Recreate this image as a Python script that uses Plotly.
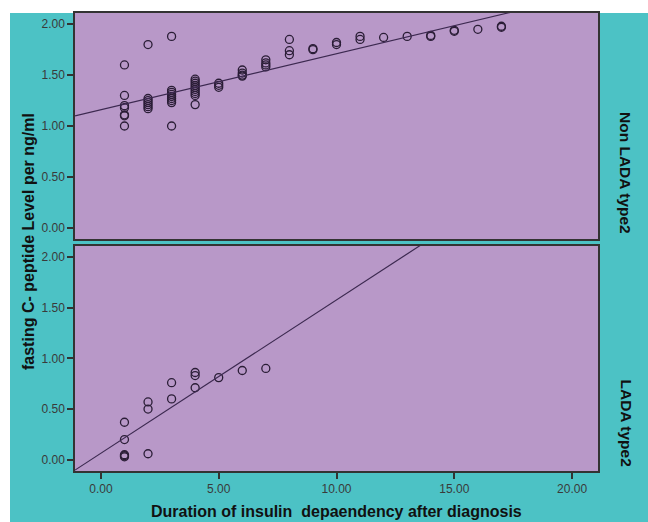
import plotly.graph_objects as go

# ---- data ----
nonlada_x = [1, 1, 1, 1, 1, 1, 1,
             2, 2, 2, 2, 2, 2, 2,
             3, 3, 3, 3, 3, 3, 3, 3, 3,
             4, 4, 4, 4, 4, 4, 4, 4, 4, 4,
             5, 5, 5,
             6, 6, 6, 6,
             7, 7, 7, 7,
             8, 8, 8,
             9, 9,
             10, 10,
             11, 11,
             12,
             13,
             14, 14,
             15, 15,
             16,
             17, 17]
nonlada_y = [1.60, 1.30, 1.20, 1.18, 1.11, 1.10, 1.00,
             1.80, 1.27, 1.25, 1.23, 1.21, 1.19, 1.17,
             1.88, 1.35, 1.33, 1.31, 1.29, 1.27, 1.25, 1.23, 1.00,
             1.46, 1.44, 1.42, 1.40, 1.38, 1.36, 1.34, 1.32, 1.30, 1.21,
             1.42, 1.40, 1.38,
             1.55, 1.52, 1.50, 1.49,
             1.65, 1.62, 1.60, 1.58,
             1.85, 1.74, 1.70,
             1.76, 1.75,
             1.82, 1.80,
             1.88, 1.85,
             1.87,
             1.88,
             1.89, 1.88,
             1.94, 1.93,
             1.95,
             1.98, 1.97]

lada_x = [1, 1, 1, 1, 1, 2, 2, 2, 3, 3, 4, 4, 4, 5, 6, 7]
lada_y = [0.37, 0.20, 0.05, 0.04, 0.03, 0.57, 0.50, 0.06, 0.76, 0.60,
          0.86, 0.83, 0.71, 0.81, 0.88, 0.90]

# linear fit lines (intercept, slope) as drawn in the chart
nonlada_fit = (1.16, 0.055)
lada_fit = (0.065, 0.151)

x_range = [-1.1, 21.1]
y_range = [-0.11, 2.11]
x_ticks = [0, 5, 10, 15, 20]
y_ticks = [0.0, 0.5, 1.0, 1.5, 2.0]

x_title = "Duration of insulin\u00a0 depaendency after diagnosis"
y_title = "fasting C- peptide Level per ng/ml"
panel_labels = ["Non LADA type2", "LADA type2"]

# ---- styling ----
TEAL = "#4CC2C5"
PURPLE = "#B898C8"
MARK = "#2A1D36"
LINE = "#3C2950"
FRAME = "#333333"
FONT = "Liberation Sans, Arial, sans-serif"

fig = go.Figure()

def add_panel(xs, ys, fit, xa, ya):
    fig.add_trace(go.Scatter(
        x=xs, y=ys, mode="markers", xaxis=xa, yaxis=ya,
        marker=dict(symbol="circle-open", size=8, color=MARK,
                    line=dict(width=1.3, color=MARK)),
        showlegend=False, hoverinfo="skip"))
    b0, b1 = fit
    lx = [x_range[0], x_range[1]]
    ly = [b0 + b1 * v for v in lx]
    fig.add_trace(go.Scatter(
        x=lx, y=ly, mode="lines", xaxis=xa, yaxis=ya,
        line=dict(color=LINE, width=1.2),
        showlegend=False, hoverinfo="skip"))

add_panel(nonlada_x, nonlada_y, nonlada_fit, "x", "y")
add_panel(lada_x, lada_y, lada_fit, "x2", "y2")

W, H = 648, 522
ml, mr, mt, mb = 75, 50, 13, 51
pw, ph = W - ml - mr, H - mt - mb

def py2paper(py):
    return (H - mb - py) / ph

def px2paper(px):
    return (px - ml) / pw

top_dom = [py2paper(239), 1.0]
bot_dom = [0.0, py2paper(245.6)]

tick_font = dict(family=FONT, size=12, color="#3a3a3a")
y_ticktext = ["%.2f" % v for v in y_ticks]
x_ticktext = ["%.2f" % v for v in x_ticks]

common_axis = dict(showgrid=False, zeroline=False, showline=True, mirror=True,
                   linecolor=FRAME, linewidth=1.5)

fig.update_layout(
    width=W, height=H,
    margin=dict(l=ml, r=mr, t=mt, b=mb, pad=0),
    paper_bgcolor=TEAL,
    plot_bgcolor=PURPLE,
    font=dict(family=FONT),
    xaxis=dict(domain=[0, 1], range=x_range, anchor="y", showticklabels=False,
               ticks="", **common_axis),
    yaxis=dict(domain=top_dom, range=y_range, anchor="x", tickvals=y_ticks,
               ticktext=y_ticktext, ticks="outside", ticklen=6, tickwidth=1.5,
               tickcolor=FRAME, tickfont=tick_font, **common_axis),
    xaxis2=dict(domain=[0, 1], range=x_range, anchor="y2", tickvals=x_ticks,
                ticktext=x_ticktext, ticks="outside", ticklen=6, tickwidth=1.5,
                tickcolor=FRAME, tickfont=tick_font, **common_axis),
    yaxis2=dict(domain=bot_dom, range=y_range, anchor="x2", tickvals=y_ticks,
                ticktext=y_ticktext, ticks="outside", ticklen=6, tickwidth=1.5,
                tickcolor=FRAME, tickfont=tick_font, **common_axis),
    shapes=[
        # white margins (left strip and top strip)
        dict(type="rect", xref="paper", yref="paper", x0=-0.5, x1=px2paper(10),
             y0=-0.5, y1=1.5, fillcolor="white", line=dict(width=0), layer="below"),
        dict(type="rect", xref="paper", yref="paper", x0=-0.5, x1=1.5,
             y0=1.0, y1=1.5, fillcolor="white", line=dict(width=0), layer="below"),
    ],
    annotations=[
        dict(text="<b>%s</b>" % y_title, xref="paper", yref="paper",
             x=px2paper(28), y=py2paper(242), textangle=-90, showarrow=False,
             xanchor="center", yanchor="middle",
             font=dict(family=FONT, size=16, color="#111111")),
        dict(text="<b>%s</b>" % x_title, xref="paper", yref="paper",
             x=px2paper(336), y=py2paper(511), showarrow=False,
             xanchor="center", yanchor="middle",
             font=dict(family=FONT, size=16, color="#111111")),
        dict(text="<b>%s</b>" % panel_labels[0], xref="paper", yref="paper",
             x=px2paper(626), y=py2paper(236), textangle=90, showarrow=False,
             xanchor="center", yanchor="bottom",
             font=dict(family=FONT, size=15.5, color="#111111")),
        dict(text="<b>%s</b>" % panel_labels[1], xref="paper", yref="paper",
             x=px2paper(626), y=py2paper(468), textangle=90, showarrow=False,
             xanchor="center", yanchor="bottom",
             font=dict(family=FONT, size=15.5, color="#111111")),
    ],
)

fig.write_html("out.html")
